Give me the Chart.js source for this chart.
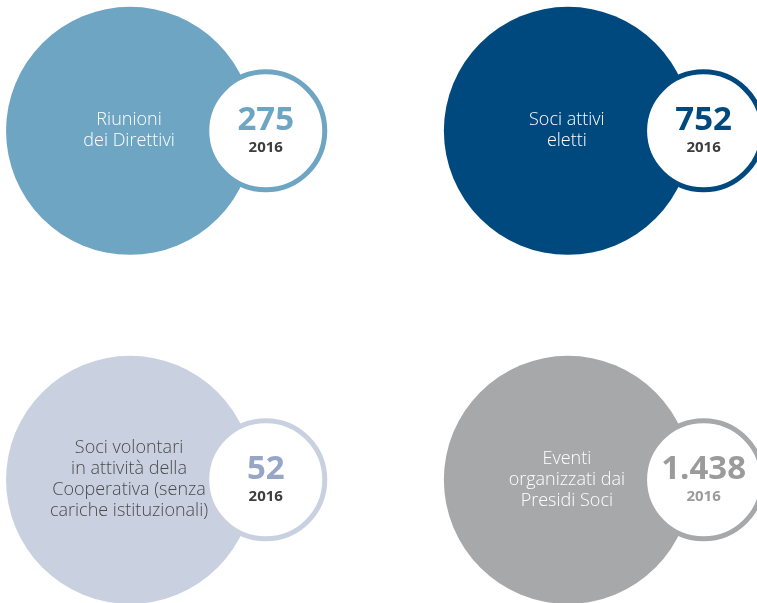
<!DOCTYPE html>
<html lang="it">
<head>
    <meta charset="UTF-8">
    <title>Soci e attività 2016</title>
    <style>
        body { margin: 0; background: #fff; }
        #wrap { width: 757px; height: 603px; }
    </style>
</head>
<body>
    <div id="wrap"><canvas id="chart" width="757" height="603"></canvas></div>
    <script src="https://cdn.jsdelivr.net/npm/chart.js"></script>
    <script>
        // Data for the four indicators
        const labels = [
            ['Riunioni', 'dei Direttivi'],
            ['Soci attivi', 'eletti'],
            ['Soci volontari', 'in attività della', 'Cooperativa (senza', 'cariche istituzionali)'],
            ['Eventi', 'organizzati dai', 'Presidi Soci']
        ];
        const values = [275, 752, 52, 1438];
        const years = ['2016', '2016', '2016', '2016'];
        const cols = [0, 1, 0, 1];   // grid column of each item
        const rows = [0, 0, 1, 1];   // grid row of each item

        const fillColors = ['#6ea5c3', '#00497f', '#c9d1e1', '#a7a8aa'];
        const numColors = ['#6ea5c3', '#00497f', '#97a6c4', '#9b9b9b'];
        const yearColors = ['#3d3d3d', '#3d3d3d', '#3d3d3d', '#9b9b9b'];
        const textColors = ['#ffffff', '#ffffff', '#4a4a4a', '#ffffff'];

        const ringShift = 0.31;

        function fmt(v) {
            return v.toLocaleString('it-IT');
        }

        const textPlugin = {
            id: 'texts',
            afterDatasetsDraw(chart) {
                const ctx = chart.ctx;
                const xs = chart.scales.x, ys = chart.scales.y;
                ctx.save();
                ctx.textAlign = 'center';
                ctx.textBaseline = 'middle';
                labels.forEach((lines, i) => {
                    const cx = xs.getPixelForValue(cols[i]);
                    const cy = ys.getPixelForValue(rows[i]);
                    ctx.font = '300 18px "Open Sans", sans-serif';
                    ctx.fillStyle = textColors[i];
                    const lh = 21;
                    const top = cy - (lines.length - 1) * lh / 2;
                    lines.forEach((l, k) => ctx.fillText(l, cx - 1, top + k * lh));

                    const rx = xs.getPixelForValue(cols[i] + ringShift);
                    ctx.font = 'bold 33px "Open Sans", sans-serif';
                    ctx.fillStyle = numColors[i];
                    ctx.fillText(fmt(values[i]), rx, cy - 10);
                    ctx.font = 'bold 15px "Open Sans", sans-serif';
                    ctx.fillStyle = yearColors[i];
                    ctx.fillText(years[i], rx, cy + 17);
                });
                ctx.restore();
            }
        };

        const config = {
            type: 'bubble',
            data: {
                datasets: [
                    {
                        label: 'cerchi',
                        data: values.map((v, i) => ({ x: cols[i], y: rows[i], v: v })),
                        backgroundColor: fillColors,
                        borderWidth: 0,
                        radius: 124,
                        clip: false,
                        order: 2
                    },
                    {
                        label: 'anelli',
                        data: values.map((v, i) => ({ x: cols[i] + ringShift, y: rows[i], v: v })),
                        backgroundColor: '#ffffff',
                        borderColor: fillColors,
                        borderWidth: 5,
                        radius: 59,
                        clip: false,
                        order: 1
                    }
                ]
            },
            options: {
                responsive: false,
                animation: false,
                events: [],
                layout: { padding: 0, autoPadding: false },
                scales: {
                    x: { type: 'linear', display: false, min: -0.297, max: 1.432 },
                    y: { type: 'linear', display: false, reverse: true, min: -0.375, max: 1.353 }
                },
                plugins: {
                    legend: { display: false },
                    tooltip: { enabled: false }
                }
            },
            plugins: [textPlugin]
        };

        new Chart(document.getElementById('chart'), config);
    </script>
</body>
</html>
